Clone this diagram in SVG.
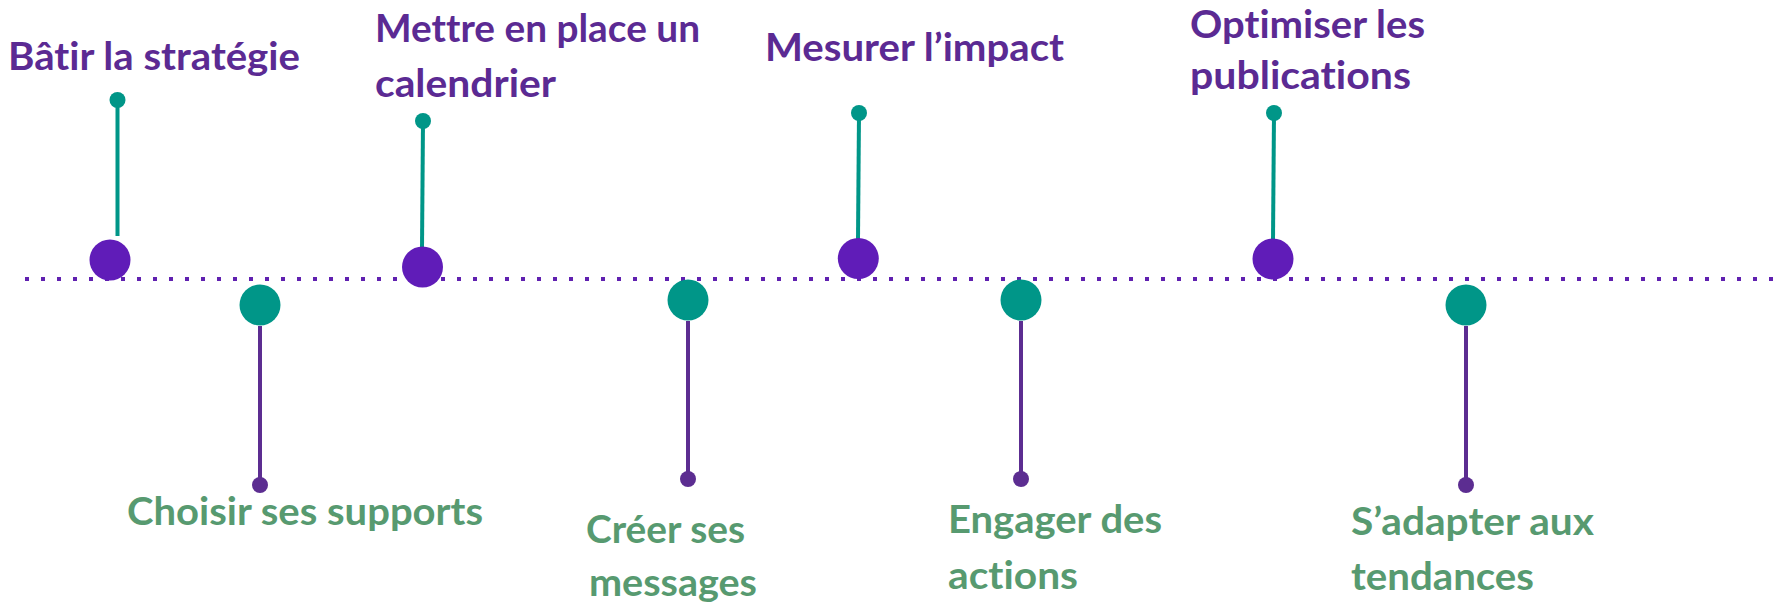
<svg xmlns="http://www.w3.org/2000/svg" width="1786" height="609" viewBox="0 0 1786 609">
  <style>
    .lbl { font-family: "Lato", "Liberation Sans", sans-serif; font-weight: 700; font-size: 39px; font-variant-ligatures: none; }
    .up { fill: #5b2a93; }
    .down { fill: #579a70; }
    .axis { stroke: #6020b0; stroke-width: 4; stroke-dasharray: 4 12; fill: none; }
    .stem-teal { stroke: #009688; stroke-width: 4; fill: none; }
    .stem-purple { stroke: #5c2d91; stroke-width: 4; fill: none; }
    .big-purple { fill: #601cb8; }
    .big-teal { fill: #009688; }
    .tip-teal { fill: #009688; }
    .tip-purple { fill: #5c2d91; }
  </style>
  <rect width="1786" height="609" fill="#ffffff"/>

  <!-- timeline axis and stems -->
  <g id="connectors">
    <line class="axis" x1="25" y1="279" x2="1774" y2="279"/>
    <line class="stem-teal" x1="117.5" y1="100" x2="117.5" y2="236"/>
    <line class="stem-teal" x1="423" y1="121" x2="422" y2="248"/>
    <line class="stem-teal" x1="859" y1="113" x2="858" y2="239"/>
    <line class="stem-teal" x1="1274" y1="113" x2="1273" y2="240"/>
    <line class="stem-purple" x1="260" y1="326" x2="260" y2="485"/>
    <line class="stem-purple" x1="688" y1="321" x2="688" y2="479"/>
    <line class="stem-purple" x1="1021" y1="321" x2="1021" y2="479"/>
    <line class="stem-purple" x1="1466" y1="326" x2="1466" y2="485"/>
  </g>

  <g id="step-batir">
    <circle class="tip-teal" cx="117.5" cy="100" r="8"/>
    <circle class="big-purple" cx="110" cy="260" r="20.5"/>
    <text class="lbl up" x="8" y="70" textLength="292" lengthAdjust="spacingAndGlyphs">Bâtir la stratégie</text>
  </g>

  <g id="step-choisir">
    <circle class="big-teal" cx="260" cy="305" r="20.5"/>
    <circle class="tip-purple" cx="260" cy="485" r="8"/>
    <text class="lbl down" x="127" y="525" textLength="356" lengthAdjust="spacingAndGlyphs">Choisir ses supports</text>
  </g>

  <g id="step-calendrier">
    <circle class="tip-teal" cx="423" cy="121" r="8"/>
    <circle class="big-purple" cx="422.5" cy="267" r="20.5"/>
    <text class="lbl up" x="375" y="42" textLength="325" lengthAdjust="spacingAndGlyphs">Mettre en place un</text>
    <text class="lbl up" x="375" y="97" textLength="181" lengthAdjust="spacingAndGlyphs">calendrier</text>
  </g>

  <g id="step-messages">
    <circle class="big-teal" cx="688" cy="300" r="20.5"/>
    <circle class="tip-purple" cx="688" cy="479" r="8"/>
    <text class="lbl down" x="586" y="543" textLength="159" lengthAdjust="spacingAndGlyphs">Créer ses</text>
    <text class="lbl down" x="589" y="596" textLength="168" lengthAdjust="spacingAndGlyphs">messages</text>
  </g>

  <g id="step-impact">
    <circle class="tip-teal" cx="859" cy="113" r="8"/>
    <circle class="big-purple" cx="858.3" cy="258.5" r="20.5"/>
    <text class="lbl up" x="765" y="61" textLength="299" lengthAdjust="spacingAndGlyphs">Mesurer l’impact</text>
  </g>

  <g id="step-actions">
    <circle class="big-teal" cx="1021" cy="300" r="20.5"/>
    <circle class="tip-purple" cx="1021" cy="479" r="8"/>
    <text class="lbl down" x="948" y="533" textLength="214" lengthAdjust="spacingAndGlyphs">Engager des</text>
    <text class="lbl down" x="948" y="589" textLength="130" lengthAdjust="spacingAndGlyphs">actions</text>
  </g>

  <g id="step-publications">
    <circle class="tip-teal" cx="1274" cy="113" r="8"/>
    <circle class="big-purple" cx="1273" cy="259" r="20.5"/>
    <text class="lbl up" x="1190" y="38" font-size="38" textLength="235" lengthAdjust="spacingAndGlyphs">Optimiser les</text>
    <text class="lbl up" x="1190" y="89" textLength="221" lengthAdjust="spacingAndGlyphs">publications</text>
  </g>

  <g id="step-tendances">
    <circle class="big-teal" cx="1466" cy="305" r="20.5"/>
    <circle class="tip-purple" cx="1466" cy="485" r="8"/>
    <text class="lbl down" x="1351" y="535" textLength="243" lengthAdjust="spacingAndGlyphs">S’adapter aux</text>
    <text class="lbl down" x="1351" y="590" textLength="183" lengthAdjust="spacingAndGlyphs">tendances</text>
  </g>
</svg>
